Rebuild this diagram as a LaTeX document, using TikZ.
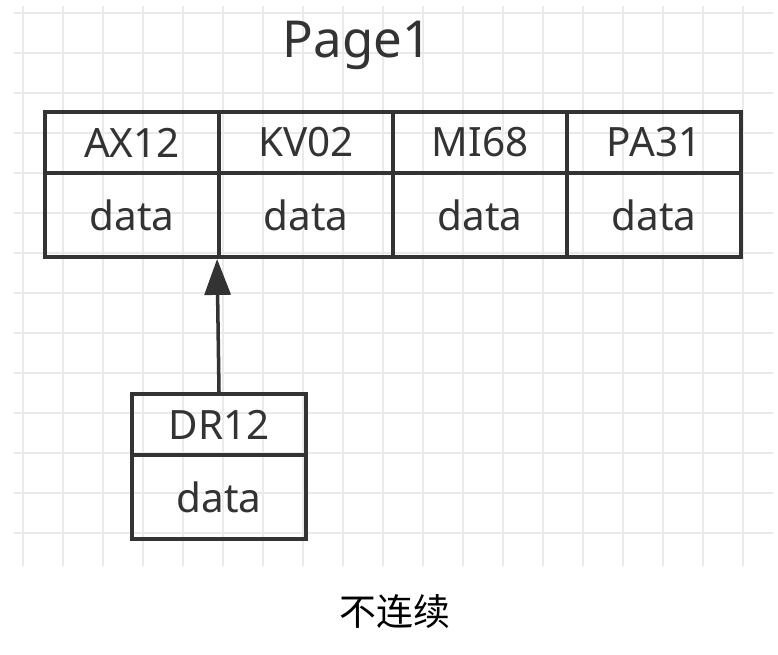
\documentclass[tikz,border=0pt]{standalone}
\usepackage{fontspec}
\setmainfont{Noto Sans}
\newfontfamily\cjkfont{Noto Sans CJK SC}
\usetikzlibrary{arrows.meta}
\definecolor{ink}{HTML}{333333}
\definecolor{gridgray}{HTML}{EAEAEA}
\tikzset{
	every path/.style={line width=1.6pt},
	gridline/.style={
		draw=gridgray,
		line width=0.7pt,
	},
	keycell/.style={
		draw=ink,
		line width=2.2pt,
		rectangle,
		text=ink,
		minimum width=3.48cm,
		minimum height=1.22cm,
		inner sep=0pt,
		font=\fontsize{23}{26}\selectfont,
	},
	datacell/.style={
		keycell,
		minimum height=1.68cm,
	},
	ptr/.style={
		draw=ink,
		line width=2pt,
		-{Triangle[width=0.52cm,length=0.72cm]}
	},
}

\begin{document}
\begin{tikzpicture}[x=0.02cm,y=-0.02cm]
		\useasboundingbox (0,0) rectangle (778,654);

		% background grid
		\foreach \gx in {23,63,...,763}
			\draw[gridline] (\gx,6) -- (\gx,566);
		\foreach \gy in {13,53,...,533}
			\draw[gridline] (14,\gy) -- (773,\gy);

		\node[text=ink,font=\fontsize{29}{34}\selectfont] (title) at (357,45) {Page1};

		\node[keycell]  (axkey)  at (132,142.5) {AX12};
		\node[keycell]  (kvkey)  at (306,142.5) {KV02};
		\node[keycell]  (mikey)  at (480,142.5) {MI68};
		\node[keycell]  (pakey)  at (654,142.5) {PA31};
		\node[datacell] (axdata) at (132,215) {data};
		\node[datacell] (kvdata) at (306,215) {data};
		\node[datacell] (midata) at (480,215) {data};
		\node[datacell] (padata) at (654,215) {data};

		\node[keycell]  (drkey)  at (219,424.5) {DR12};
		\node[datacell] (drdata) at (219,497) {data};

%		\draw[ptr] (drkey) -- (kvdata);
		\draw[ptr] (drkey.north) -- (kvdata.south west);

		\node[font=\cjkfont\fontsize{21}{25}\selectfont] (caption) at (395,612) {不连续};

	\end{tikzpicture}
\end{document}
